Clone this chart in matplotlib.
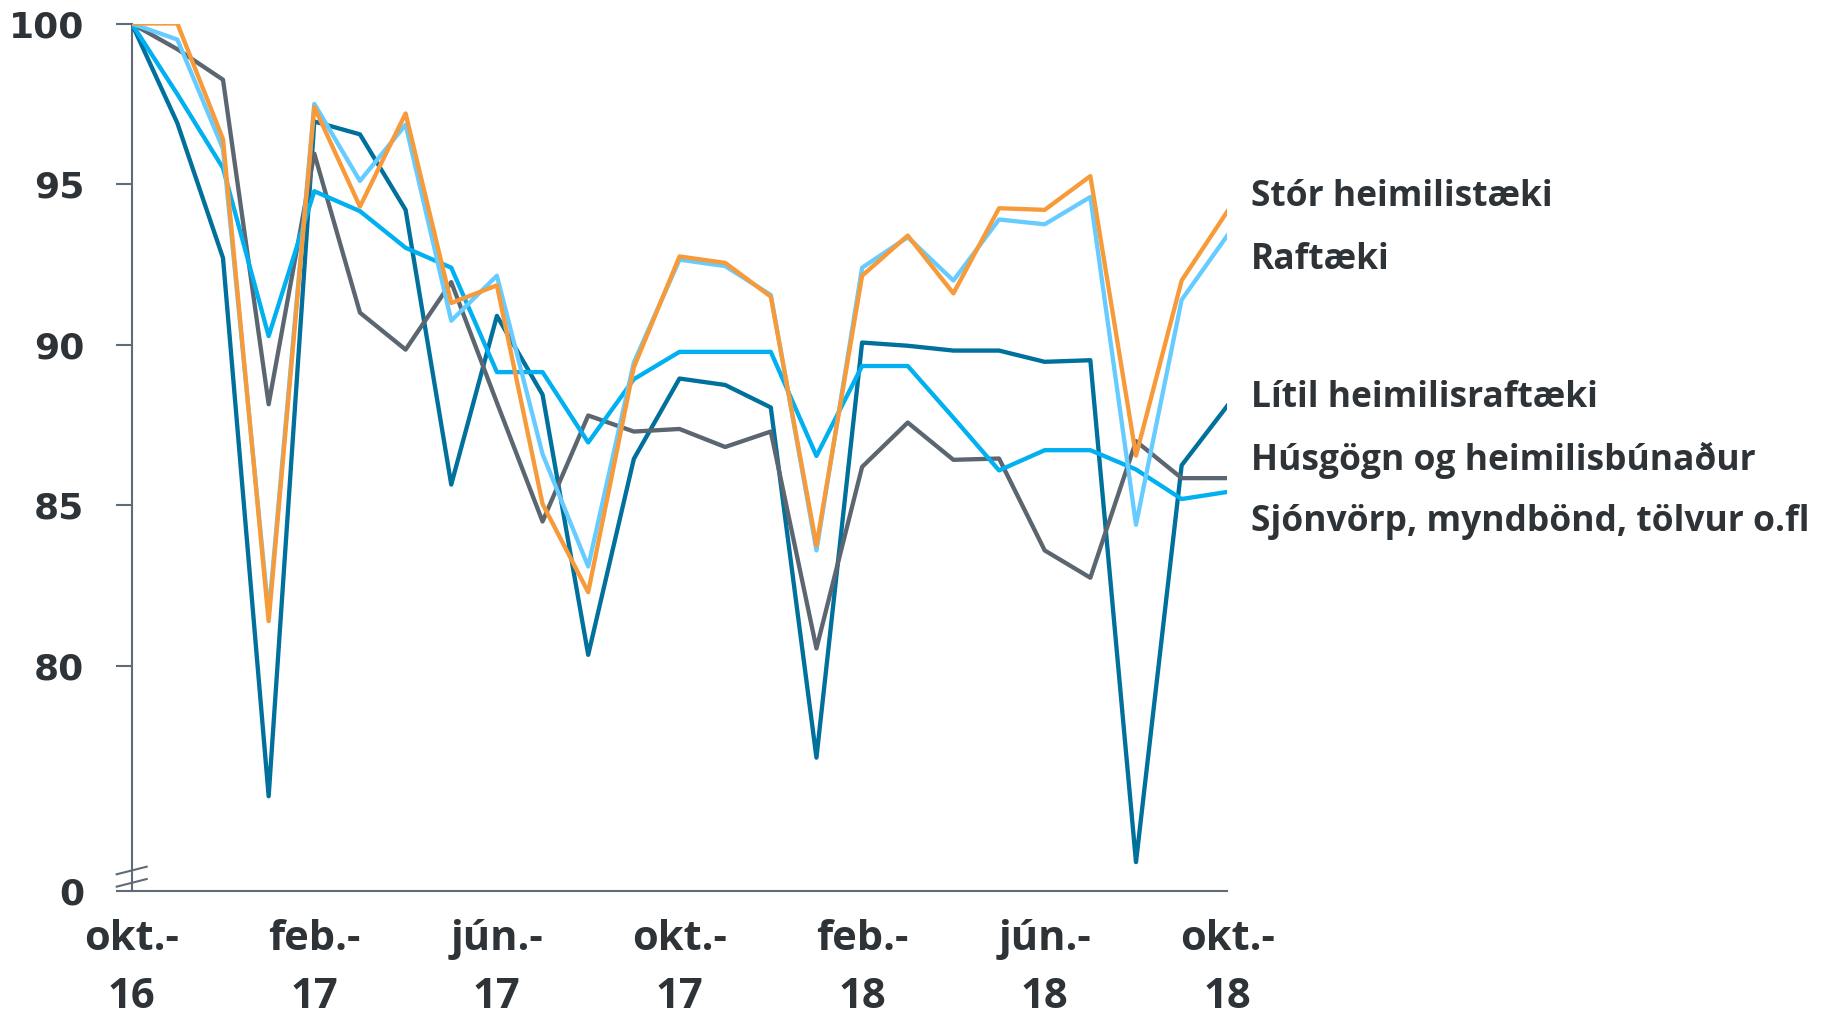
import numpy as np
import matplotlib
matplotlib.use("Agg")
import matplotlib.pyplot as plt

# Vísitala, okt. 2016 = 100 (mánaðargögn okt.-16 til okt.-18)
months = np.arange(25)
tick_pos = [0, 4, 8, 12, 16, 20, 24]
tick_labels = ["okt.-\n16", "feb.-\n17", "jún.-\n17", "okt.-\n17",
               "feb.-\n18", "jún.-\n18", "okt.-\n18"]

stor = [100, 100, 96.4, 81.4, 97.4, 94.3, 97.2, 91.3, 91.85, 85.05, 82.3, 89.3,
        92.75, 92.55, 91.5, 83.75, 92.15, 93.4, 91.6, 94.25, 94.2, 95.25, 86.55,
        92.0, 94.15]
raftaeki = [100, 99.5, 96.1, 81.6, 97.5, 95.1, 96.85, 90.75, 92.15, 86.6, 83.1,
            89.45, 92.65, 92.45, 91.55, 83.6, 92.4, 93.35, 92.0, 93.9, 93.75, 94.6,
            84.4, 91.4, 93.4]
litil = [100, 96.9, 92.7, 75.95, 96.95, 96.55, 94.2, 85.65, 90.9, 88.45, 80.35,
         86.45, 88.95, 88.75, 88.05, 77.15, 90.07, 89.97, 89.82, 89.82, 89.47,
         89.52, 73.9, 86.25, 88.1]
husgogn = [100, 99.2, 98.25, 88.15, 95.95, 91.0, 89.85, 91.95, 88.2, 84.5, 87.8,
           87.3, 87.38, 86.82, 87.3, 80.55, 86.2, 87.58, 86.42, 86.46, 83.6, 82.75,
           87.0, 85.85, 85.85]
sjonvorp = [100, 97.8, 95.5, 90.27, 94.78, 94.16, 93.02, 92.4, 89.15, 89.15, 86.96,
            88.93, 89.78, 89.78, 89.78, 86.54, 89.34, 89.34, 87.73, 86.09, 86.72,
            86.72, 86.12, 85.2, 85.42]

# neðsta gildi ássins er sýnt sem "0" (brotinn ás)
y_ticks = [73, 80, 85, 90, 95, 100]
y_tick_labels = ["0", "80", "85", "90", "95", "100"]

labels = ["Stór heimilistæki", "Raftæki", "Lítil heimilisraftæki",
          "Húsgögn og heimilisbúnaður", "Sjónvörp, myndbönd, tölvur o.fl"]
label_y_px = [197, 260, 398, 460, 522]  # miðja texta, px frá toppi

text_col = "#2E3338"
axis_col = "#5F6B77"

fig = plt.figure(figsize=(18.33, 10.16), dpi=100)
ax = fig.add_axes([131.7 / 1833, 1 - 891 / 1016, 1095.6 / 1833, 867.5 / 1016])

# teikniröð: orange efst
ax.plot(months, litil, color="#00709C", lw=3.1, zorder=3)
ax.plot(months, husgogn, color="#5B6670", lw=3.1, zorder=3)
ax.plot(months, sjonvorp, color="#00B0F0", lw=3.1, zorder=3)
ax.plot(months, raftaeki, color="#66CCFF", lw=3.1, zorder=3)
ax.plot(months, stor, color="#F79A3A", lw=3.1, zorder=3)

ax.set_xlim(0, 24)
ax.set_ylim(73, 100)

for s in ["top", "right"]:
    ax.spines[s].set_visible(False)
for s in ["left", "bottom"]:
    ax.spines[s].set_color(axis_col)
    ax.spines[s].set_linewidth(1.5)

ax.set_yticks(y_ticks)
ax.set_yticklabels(y_tick_labels, fontfamily="DejaVu Sans", fontweight="bold",
                   fontsize=26, color=text_col)
ax.tick_params(axis="y", length=11.3, width=1.5, color=axis_col, pad=23)

ax.set_xticks(tick_pos)
ax.set_xticklabels(tick_labels, fontfamily="Open Sans", fontweight="bold",
                   fontsize=30, color=text_col, linespacing=1.52)
ax.tick_params(axis="x", length=0, pad=20.5)

# brotmerki á y-ás
for y0, y1 in [(0.0193, 0.028), (0.005, 0.0138)]:
    ax.plot([-0.0137, 0.0137], [y0, y1], transform=ax.transAxes,
            color=axis_col, lw=1.5, clip_on=False, zorder=4)

for lab, ypx in zip(labels, label_y_px):
    fig.text(1251 / 1833, 1 - ypx / 1016, lab, fontfamily="Open Sans",
             fontweight="bold", fontsize=25.5, color=text_col, va="center", ha="left")

fig.savefig("out.png", dpi=100)
